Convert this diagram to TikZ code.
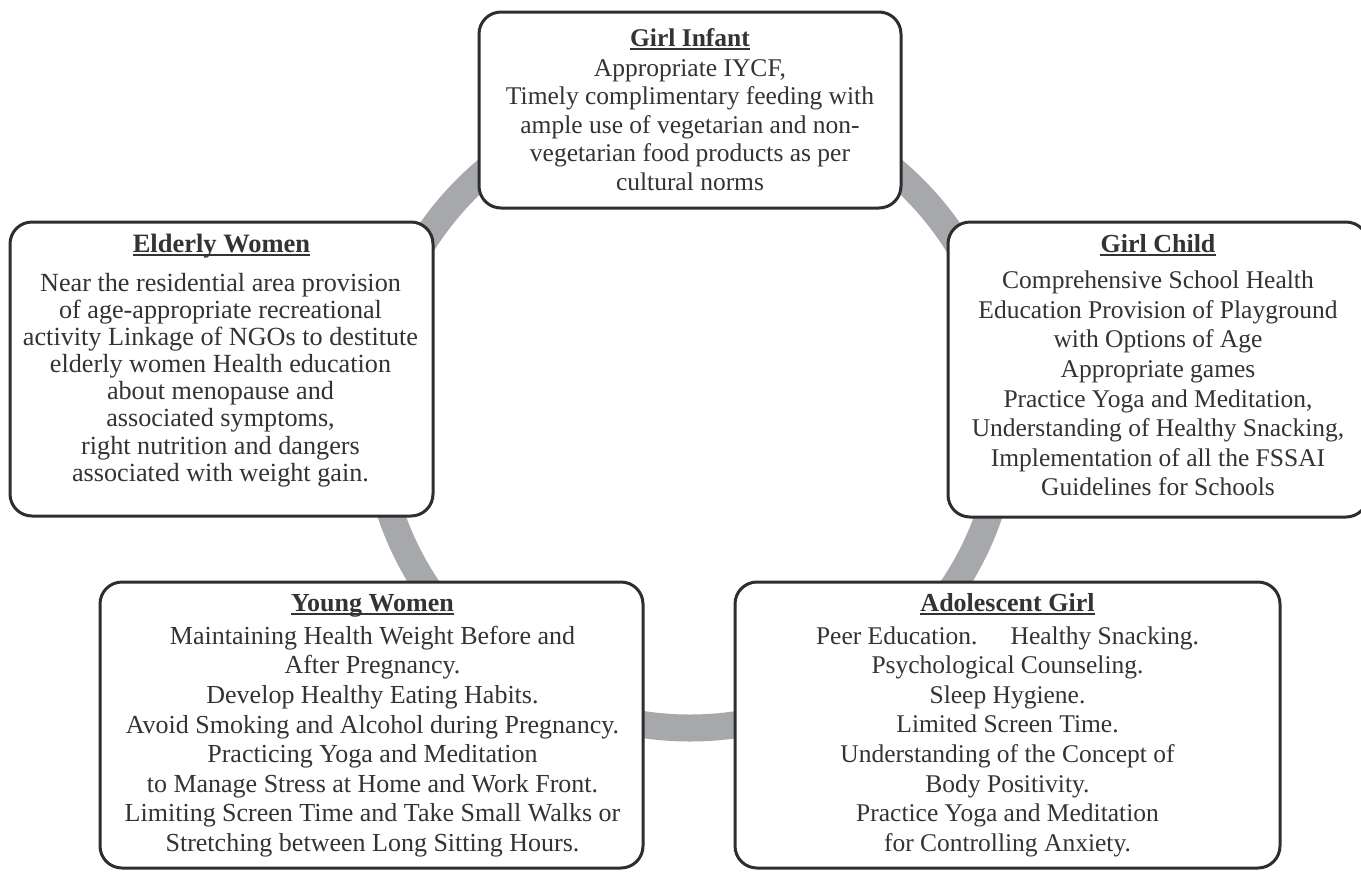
\documentclass[tikz,border=0pt]{standalone}
\usepackage{fontspec}
\setmainfont{Liberation Serif}
\definecolor{ringgray}{HTML}{A7A8AB}
\definecolor{boxline}{HTML}{2E2E2E}
\definecolor{txt}{HTML}{333333}
\begin{document}
\begin{tikzpicture}[x=1pt,y=-1pt,
  box/.style={draw=boxline, line width=3pt, fill=white, rounded corners=22pt, inner sep=0pt},
  ttl/.style={text=txt, inner sep=0pt, anchor=base, font=\bfseries\fontsize{26}{30}\selectfont},
  body/.style={text=txt, inner sep=0pt, align=center},
  uline/.style={draw=txt, line width=1.4pt},
  ]
\useasboundingbox (0,0) rectangle (1361,871);
\draw[ringgray, line width=27pt] (690,412) circle[radius=316pt];
% boxes
\node[box, minimum width=422pt, minimum height=196pt] (infant) at (690,110) {};
\node[box, minimum width=423pt, minimum height=294pt] (elderly) at (221.5,369) {};
\node[box, minimum width=420pt, minimum height=295pt] (child) at (1158,369.5) {};
\node[box, minimum width=543pt, minimum height=286pt] (young) at (371.5,725) {};
\node[box, minimum width=545pt, minimum height=286pt] (adolescent) at (1007.5,725) {};
% Girl Infant
\node[ttl, font=\bfseries\fontsize{25.5}{30}\selectfont] (infant-t) at (690,46) {Girl Infant};
\node[body, font=\fontsize{25.5}{28.5}\selectfont] (infant-b) at (690,125)
  {Appropriate IYCF,\\Timely complimentary feeding with\\ample use of vegetarian and non-\\vegetarian food products as per\\cultural norms};
% Elderly Women
\node[ttl, font=\bfseries\fontsize{26.5}{30}\selectfont] (elderly-t) at (221.5,252) {Elderly Women};
\node[body, font=\fontsize{26.2}{27.15}\selectfont] (elderly-b) at (220.5,380)
  {Near the residential area provision\\of age-appropriate recreational\\activity Linkage of NGOs to destitute\\elderly women Health education\\about menopause and\\associated symptoms,\\right nutrition and dangers\\associated with weight gain.};
% Girl Child
\node[ttl] (child-t) at (1158,252) {Girl Child};
\node[body, font=\fontsize{25.5}{29.6}\selectfont] (child-b) at (1158,383.5)
  {Comprehensive School Health\\Education Provision of Playground\\with Options of Age\\Appropriate games\\Practice Yoga and Meditation,\\Understanding of Healthy Snacking,\\Implementation of all the FSSAI\\Guidelines for Schools};
% Young Women
\node[ttl] (young-t) at (372.5,611) {Young Women};
\node[body, font=\fontsize{26}{29.6}\selectfont] (young-b) at (372.5,741.5)
  {Maintaining Health Weight Before and\\After Pregnancy.\\Develop Healthy Eating Habits.\\Avoid Smoking and Alcohol during Pregnancy.\\Practicing Yoga and Meditation\\to Manage Stress at Home and Work Front.\\Limiting Screen Time and Take Small Walks or\\Stretching between Long Sitting Hours.};
% Adolescent Girl
\node[ttl] (adolescent-t) at (1007.5,611) {Adolescent Girl};
\node[body, font=\fontsize{25.5}{29.6}\selectfont] (adolescent-b) at (1007.5,741.5)
  {Peer Education.\hspace{1.3em}Healthy Snacking.\\Psychological Counseling.\\Sleep Hygiene.\\Limited Screen Time.\\Understanding of the Concept of\\Body Positivity.\\Practice Yoga and Meditation\\for Controlling Anxiety.};
% underlines
\foreach \t in {infant-t,elderly-t,child-t,young-t,adolescent-t}
  \draw[uline] ([yshift=-3pt]\t.base west) -- ([yshift=-3pt]\t.base east);
\end{tikzpicture}
\end{document}
